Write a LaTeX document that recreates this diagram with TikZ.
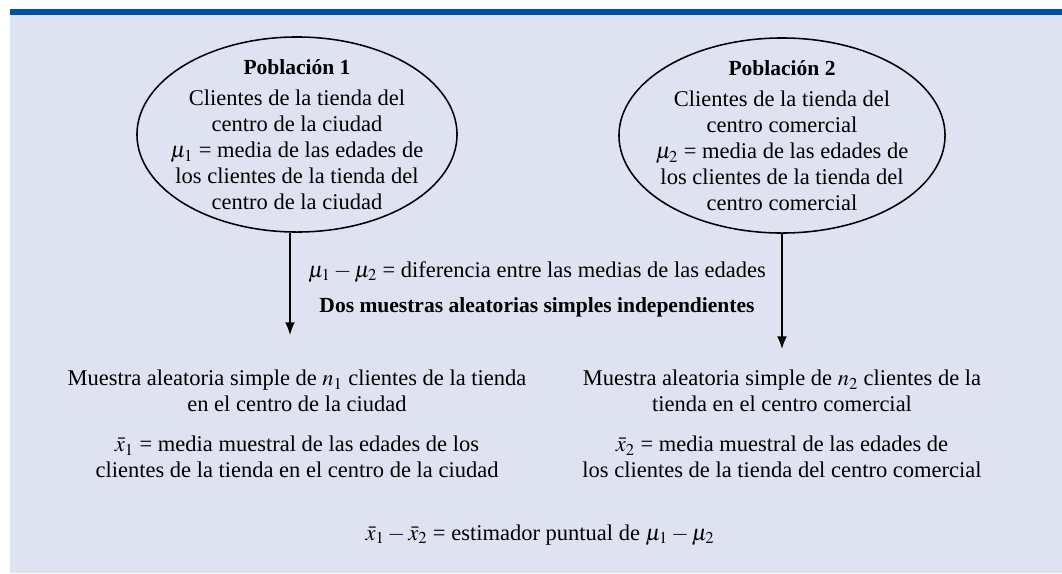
\documentclass[tikz,border=0pt]{standalone}
\usepackage{mathptmx}
\usepackage{fontspec}
\setmainfont{Liberation Serif}
\usetikzlibrary{shapes.geometric, arrows.meta, positioning}
\definecolor{panelbg}{RGB}{223, 226, 240}
\definecolor{barblue}{RGB}{0, 82, 160}

\begin{document}
\begin{tikzpicture}[x=0.025cm, y=-0.025cm,
  popshape/.style={draw, ellipse, line width=1.1pt, minimum width=8cm, minimum height=4.875cm, inner sep=0pt},
  txt/.style={align=center, font=\fontsize{16}{18.5}\selectfont},
  head/.style={font=\fontsize{15.3}{18.5}\selectfont\bfseries},
  flow/.style={-{Latex[length=9pt, width=7pt]}, line width=1.1pt}
]
  \useasboundingbox (0, 0) rectangle (1062, 573);
  \fill[panelbg] (10, 9) rectangle (1062, 573);
  \fill[barblue] (10, 9) rectangle (1062, 15);

  \node[popshape] (pop1) at (297, 134.5) {};
  \node[popshape, minimum width=8.15cm] (pop2) at (782, 135.5) {};
  \node[txt] (pop1txt) at (pop1.center) {
    {\fontsize{15.3}{18.5}\selectfont\bfseries Población 1}\\[4pt]
    Clientes de la tienda del\\
    centro de la ciudad\\
    $\mu_1$ = media de las edades de\\
    los clientes de la tienda del\\
    centro de la ciudad
  };
  \node[txt] (pop2txt) at (pop2.center) {
    {\fontsize{15.3}{18.5}\selectfont\bfseries Población 2}\\[4pt]
    Clientes de la tienda del\\
    centro comercial\\
    $\mu_2$ = media de las edades de\\
    los clientes de la tienda del\\
    centro comercial
  };

  \node[txt] (diff) at (537, 272) {$\mu_1 - \mu_2$ = diferencia entre las medias de las edades};
  \node[txt, head] (dos) at (537, 307) {Dos muestras aleatorias simples independientes};

  \coordinate (end1) at (290, 335);
  \coordinate (end2) at (782, 349);
  \draw[flow] (pop1.south -| end1) -- (end1);
  \draw[flow] (pop2.south) -- (end2);

  \node[txt] (samp1) at (297, 391) {
    Muestra aleatoria simple de $n_1$ clientes de la tienda\\
    en el centro de la ciudad
  };
  \node[txt] (mean1) at (297, 457) {
    $\bar{x}_1$ = media muestral de las edades de los\\
    clientes de la tienda en el centro de la ciudad
  };
  \node[txt] (samp2) at (782, 391) {
    Muestra aleatoria simple de $n_2$ clientes de la\\
    tienda en el centro comercial
  };
  \node[txt] (mean2) at (782, 457) {
    $\bar{x}_2$ = media muestral de las edades de\\
    los clientes de la tienda del centro comercial
  };

  \node[txt] (est) at (540, 535) {$\bar{x}_1 - \bar{x}_2$ = estimador puntual de $\mu_1 - \mu_2$};
\end{tikzpicture}
\end{document}
